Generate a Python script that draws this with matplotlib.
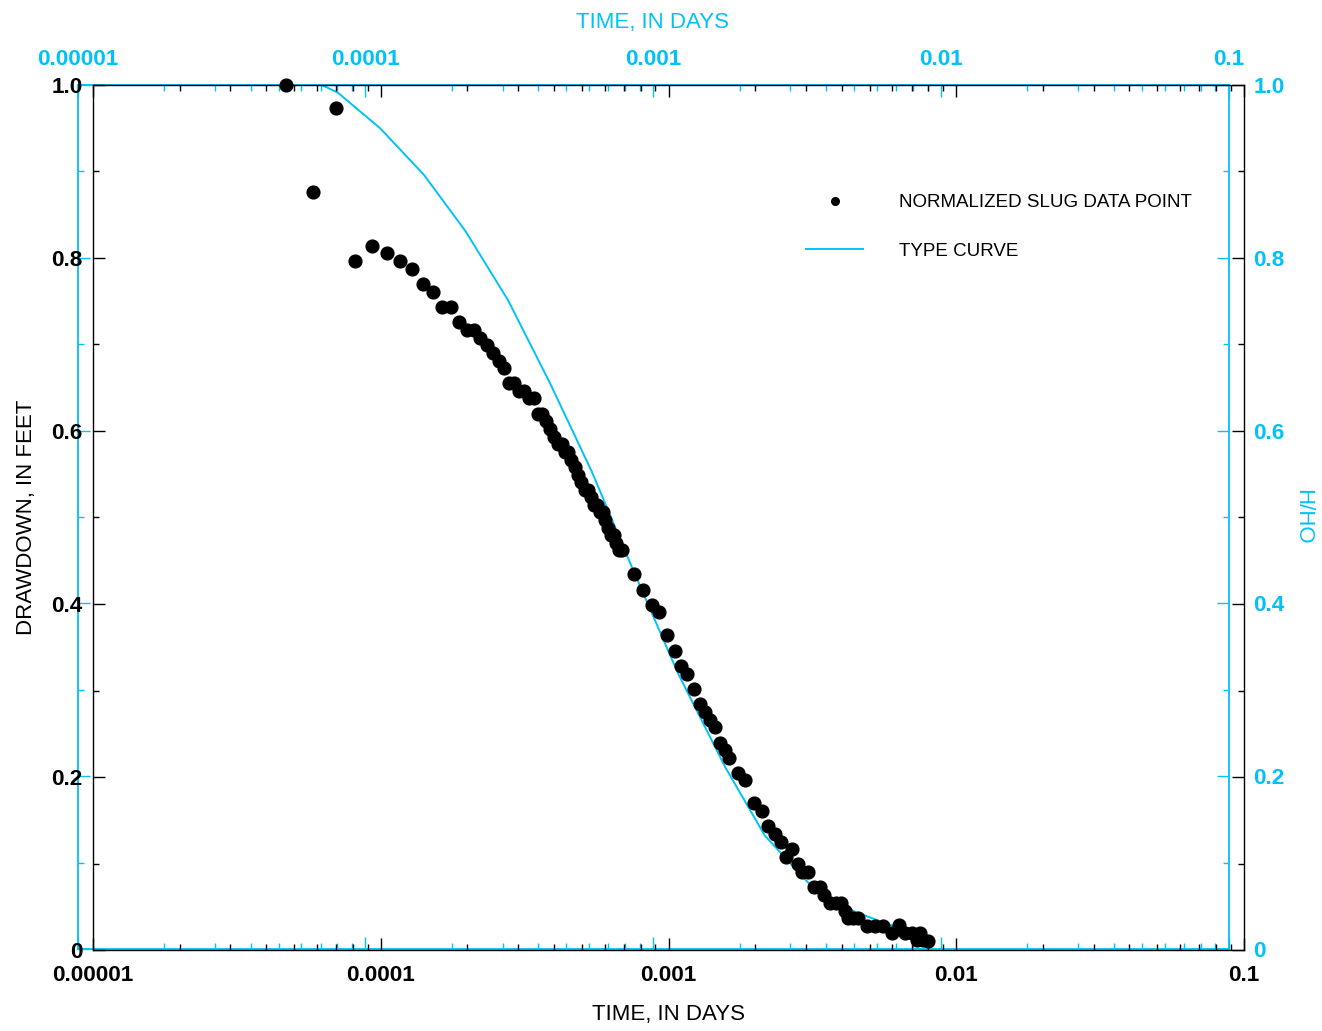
import matplotlib
matplotlib.use("Agg")
import matplotlib.pyplot as plt
from matplotlib.lines import Line2D
from matplotlib.ticker import FixedLocator, FixedFormatter, LogLocator, NullFormatter, MultipleLocator

plt.rcParams['font.family'] = ['Liberation Sans', 'DejaVu Sans']
plt.rcParams['font.weight'] = 'bold'

CYAN = '#00C2F8'

# ---- data: normalized slug test points (time in days, drawdown) ----
time_days = [4.69e-5, 5.82e-5, 6.99e-5, 8.14e-5, 9.32e-5, 1.051e-4, 1.166e-4, 1.284e-4,
             1.402e-4, 1.519e-4, 1.633e-4, 1.754e-4, 1.870e-4, 1.994e-4, 2.110e-4, 2.213e-4,
             2.340e-4, 2.455e-4, 2.576e-4, 2.681e-4, 2.791e-4, 2.905e-4, 3.024e-4, 3.147e-4,
             3.276e-4, 3.410e-4, 3.521e-4, 3.635e-4, 3.753e-4, 3.875e-4, 4.000e-4, 4.130e-4,
             4.265e-4, 4.368e-4, 4.474e-4, 4.583e-4, 4.732e-4, 4.847e-4, 4.965e-4, 5.126e-4,
             5.251e-4, 5.378e-4, 5.509e-4, 5.643e-4, 5.780e-4, 5.921e-4, 6.016e-4, 6.162e-4,
             6.313e-4, 6.466e-4, 6.570e-4, 6.730e-4, 6.893e-4, 7.59e-4, 8.15e-4, 8.76e-4,
             9.27e-4, 9.88e-4, 1.053e-3, 1.105e-3, 1.160e-3, 1.226e-3, 1.286e-3, 1.339e-3,
             1.394e-3, 1.451e-3, 1.510e-3, 1.572e-3, 1.623e-3, 1.744e-3, 1.845e-3, 1.982e-3,
             2.114e-3, 2.218e-3, 2.345e-3, 2.460e-3, 2.561e-3, 2.687e-3, 2.818e-3, 2.910e-3,
             3.053e-3, 3.203e-3, 3.361e-3, 3.470e-3, 3.641e-3, 3.820e-3, 3.976e-3, 4.106e-3,
             4.205e-3, 4.377e-3, 4.555e-3, 4.895e-3, 5.219e-3, 5.565e-3, 5.979e-3, 6.324e-3,
             6.636e-3, 7.018e-3, 7.305e-3, 7.482e-3, 7.664e-3, 7.977e-3]
drawdown = [1.000, 0.876, 0.973, 0.797, 0.814, 0.806, 0.797, 0.787,
            0.770, 0.761, 0.743, 0.743, 0.726, 0.717, 0.717, 0.708,
            0.699, 0.690, 0.681, 0.673, 0.655, 0.655, 0.646, 0.646,
            0.638, 0.638, 0.620, 0.620, 0.612, 0.602, 0.593, 0.585,
            0.585, 0.576, 0.576, 0.566, 0.558, 0.549, 0.541, 0.532,
            0.532, 0.524, 0.514, 0.514, 0.506, 0.506, 0.497, 0.488,
            0.480, 0.480, 0.471, 0.462, 0.462, 0.435, 0.416, 0.399,
            0.391, 0.364, 0.346, 0.328, 0.319, 0.302, 0.284, 0.275,
            0.266, 0.258, 0.239, 0.231, 0.222, 0.205, 0.197, 0.170,
            0.161, 0.143, 0.134, 0.125, 0.108, 0.117, 0.099, 0.090,
            0.090, 0.073, 0.073, 0.064, 0.054, 0.054, 0.054, 0.045,
            0.037, 0.037, 0.037, 0.028, 0.028, 0.028, 0.020, 0.029,
            0.020, 0.020, 0.012, 0.020, 0.012, 0.010]

# ---- type curve (time in days on upper axis, H/HO) ----
curve_time = [7.07e-5, 8.04e-5, 1.126e-4, 1.600e-4, 2.239e-4, 3.134e-4, 4.385e-4, 6.138e-4,
              8.52e-4, 1.222e-3, 1.779e-3, 2.450e-3, 3.569e-3, 5.035e-3, 7.047e-3]
curve_hho = [1.000, 0.991, 0.950, 0.896, 0.830, 0.751, 0.655, 0.552,
             0.439, 0.319, 0.211, 0.131, 0.072, 0.043, 0.025]

x_ticks = [1e-5, 1e-4, 1e-3, 1e-2, 1e-1]
x_labels = ['0.00001', '0.0001', '0.001', '0.01', '0.1']
y_ticks = [0, 0.2, 0.4, 0.6, 0.8, 1.0]
y_labels = ['0', '0.2', '0.4', '0.6', '0.8', '1.0']

W, H = 1322, 1031
fig = plt.figure(figsize=(W / 100, H / 100), dpi=100)

# cyan (type-curve) axes, slightly offset to the left
ax_c = fig.add_axes([77.5 / W, (H - 949) / H, 1151 / W, 864 / H])
# black (data) axes
ax_b = fig.add_axes([93 / W, (H - 950) / H, 1151 / W, 865 / H])
ax_b.patch.set_alpha(0)

for ax, col in ((ax_c, CYAN), (ax_b, 'black')):
    ax.set_xscale('log')
    ax.set_xlim(1e-5, 1e-1)
    ax.set_ylim(0, 1.0)
    ax.xaxis.set_major_locator(FixedLocator(x_ticks))
    ax.xaxis.set_major_formatter(FixedFormatter(x_labels))
    ax.xaxis.set_minor_locator(LogLocator(base=10, subs=range(2, 10), numticks=20))
    ax.xaxis.set_minor_formatter(NullFormatter())
    ax.yaxis.set_major_locator(FixedLocator(y_ticks))
    ax.yaxis.set_major_formatter(FixedFormatter(y_labels))
    ax.yaxis.set_minor_locator(MultipleLocator(0.1))
    for s in ax.spines.values():
        s.set_color(col)
        s.set_linewidth(1.3 if col == CYAN else 1.0)
    ax.tick_params(which='both', direction='in', top=True, bottom=True, left=True, right=True,
                   color=col, width=1.0, labelcolor=col, labelsize=16.2)
    ax.tick_params(which='major', length=8.5)
    ax.tick_params(which='minor', length=4.3)

# black axes: labels bottom/left
ax_b.tick_params(axis='x', which='both', labelbottom=True, labeltop=False, pad=11)
ax_b.tick_params(axis='y', which='both', labelleft=True, labelright=False, pad=7.5)
ax_b.set_xlabel('TIME, IN DAYS', fontsize=16, fontweight='normal', color='black', labelpad=13)
ax_b.set_ylabel('DRAWDOWN, IN FEET', fontsize=16, fontweight='normal', color='black', labelpad=10)

# cyan axes: labels top/right
ax_c.tick_params(axis='x', which='both', labelbottom=False, labeltop=True, pad=11)
ax_c.tick_params(axis='y', which='both', labelleft=False, labelright=True, pad=18)
ax_c.xaxis.set_label_position('top')
ax_c.yaxis.set_label_position('right')
ax_c.set_xlabel('TIME, IN DAYS', fontsize=16, fontweight='normal', color=CYAN, labelpad=15)
ax_c.set_ylabel('H/HO', fontsize=16, fontweight='normal', color=CYAN, rotation=270, labelpad=20)

# marks
ax_c.plot(curve_time, curve_hho, color=CYAN, lw=1.4, clip_on=False, zorder=3)
ax_b.plot(time_days, drawdown, 'o', color='black', markersize=9.2, clip_on=False, zorder=4)

handles = [Line2D([], [], marker='o', color='black', linestyle='none', markersize=5.5),
           Line2D([], [], color=CYAN, lw=1.4)]
fig.legend(handles, ['NORMALIZED SLUG DATA POINT', 'TYPE CURVE'], loc='upper left',
           bbox_to_anchor=(806 / W, (H - 194) / H), frameon=False,
           prop={'size': 13.5, 'weight': 'normal'},
           handlelength=3.05, handletextpad=1.9, labelspacing=1.67, borderpad=0,
           borderaxespad=0)

fig.savefig('out.png', dpi=100)
